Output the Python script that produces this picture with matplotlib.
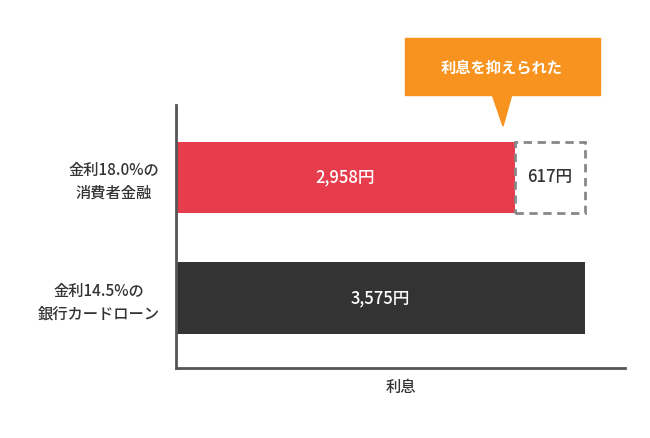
import matplotlib
matplotlib.use("Agg")
import matplotlib.pyplot as plt
from matplotlib.patches import Polygon

plt.rcParams['font.family'] = ['Noto Sans CJK JP', 'DejaVu Sans']

categories = ["金利14.5%の\n銀行カードローン", "金利18.0%の\n消費者金融"]
paid_18 = 2958
saved = 617
paid_14 = 3575
x_label = "利息"
callout = "利息を抑えられた"

fig = plt.figure(figsize=(6.5, 4.38), dpi=100)
ax = fig.add_axes([0.271, 0.160, 0.691, 0.600])

h = 0.59
ax.barh(0, paid_14, height=h, color="#333333")
ax.barh(1, paid_18, height=h, color="#e63c4b")
ax.barh(1, saved, left=paid_18, height=h, color="white", edgecolor="#888888",
        linestyle=(0, (3, 2)), linewidth=2)

ax.text(paid_14 / 2, 0, f"{paid_14:,}円", color="white", ha="center", va="center",
        fontsize=12, fontweight="medium")
ax.text(paid_18 / 2, 1, f"{paid_18:,}円", color="white", ha="center", va="center",
        fontsize=12, fontweight="medium")
ax.text(paid_18 + saved / 2, 1, f"{saved:,}円", color="#333333", ha="center", va="center",
        fontsize=12, fontweight="medium")

ax.set_xlim(0, 3925)
ax.set_ylim(-0.58, 1.60)
ax.set_yticks([0, 1])
ax.set_yticklabels(categories, fontsize=11, color="#333333", linespacing=1.4,
                   multialignment="center", fontweight="medium")
ax.set_xticks([])
ax.tick_params(axis="y", length=0, pad=12)
for s in ["top", "right"]:
    ax.spines[s].set_visible(False)
for s in ["left", "bottom"]:
    ax.spines[s].set_color("#555555")
    ax.spines[s].set_linewidth(2)
ax.set_xlabel(x_label, fontsize=11, color="#333333", labelpad=8, fontweight="medium")

# callout box
orange = "#f7931e"
fig.patches.append(plt.Rectangle((405 / 650, 1 - 95 / 438), 195 / 650, 57 / 438,
                                 transform=fig.transFigure, color=orange))
fig.patches.append(Polygon([(492 / 650, 1 - 94 / 438), (512 / 650, 1 - 94 / 438),
                            (503 / 650, 1 - 126 / 438)],
                           closed=True, transform=fig.transFigure, color=orange))
fig.text(502 / 650, 1 - 67 / 438, callout, color="white", fontsize=11,
         ha="center", va="center", fontweight="bold")

fig.savefig("out.png", dpi=100)
